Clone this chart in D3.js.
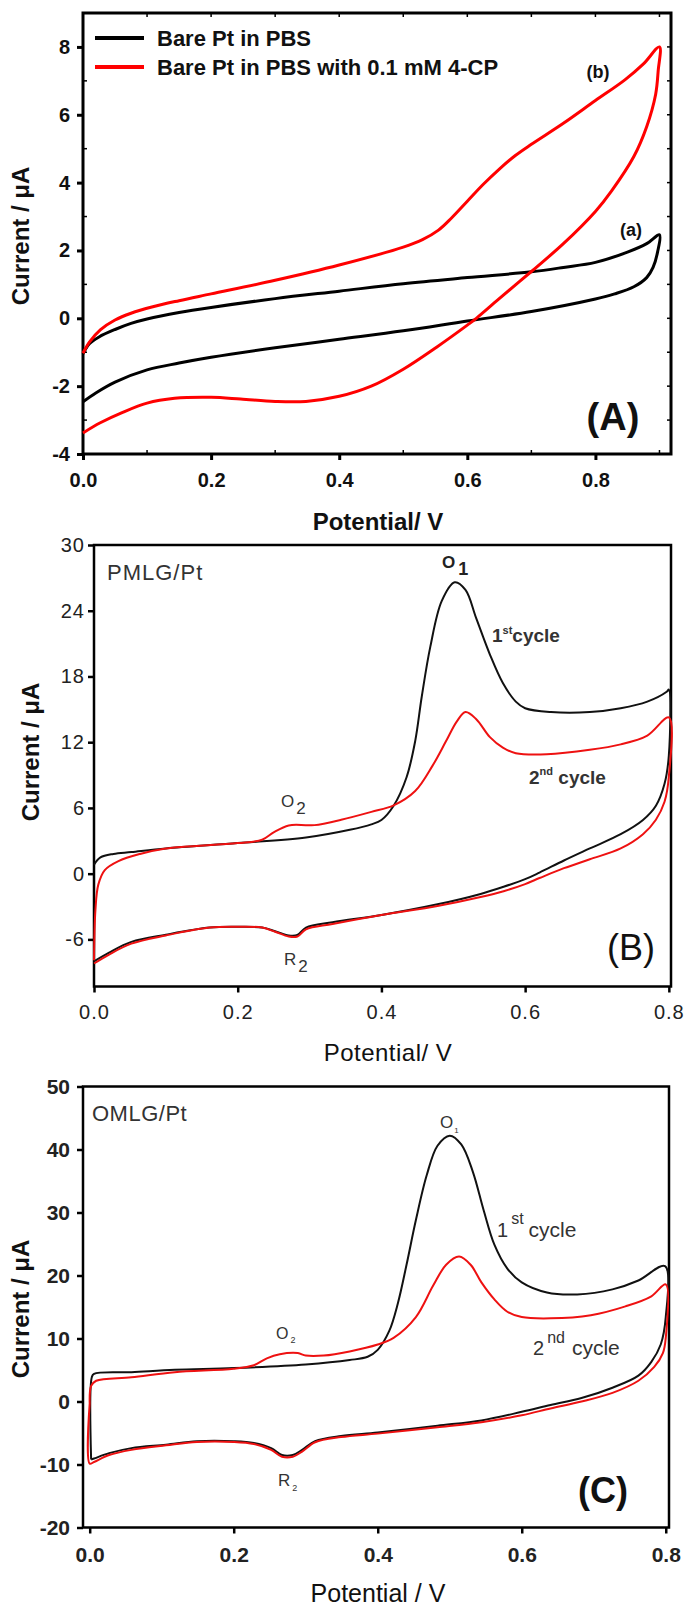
<!DOCTYPE html>
<html>
<head>
<meta charset="utf-8">
<script src="https://cdn.jsdelivr.net/npm/d3@7"></script>
<style>
  body { margin: 0; background: #fff; }
  svg { display: block; font-family: "Liberation Sans", Arial, sans-serif; }
</style>
</head>
<body>
<svg id="chart"></svg>
<script>
// ---- data: [potential V, current uA] along each scan ----
const bareFwd = [[0,-1.05],[0.01,-0.75],[0.025,-0.55],[0.05,-0.33],[0.075,-0.15],[0.1,-0.02],[0.15,0.17],[0.2,0.32],[0.3,0.58],[0.4,0.8],[0.5,1.02],[0.6,1.2],[0.7,1.37],[0.75,1.5],[0.8,1.65],[0.85,1.95],[0.88,2.2],[0.9,2.46]];
const bareRev = [[0.897,1.95],[0.89,1.5],[0.88,1.2],[0.86,0.93],[0.83,0.72],[0.8,0.57],[0.7,0.2],[0.6,-0.08],[0.5,-0.37],[0.4,-0.62],[0.3,-0.87],[0.2,-1.15],[0.15,-1.32],[0.1,-1.52],[0.05,-1.88],[0.02,-2.2],[0,-2.46]];
const cpFwd = [[0,-1.03],[0.01,-0.7],[0.027,-0.34],[0.05,-0.05],[0.075,0.15],[0.109,0.34],[0.15,0.52],[0.2,0.72],[0.3,1.12],[0.4,1.57],[0.5,2.1],[0.53,2.32],[0.555,2.6],[0.575,2.95],[0.6,3.45],[0.625,3.95],[0.65,4.4],[0.675,4.8],[0.7,5.13],[0.75,5.75],[0.8,6.42],[0.846,7.03],[0.875,7.5],[0.9,8.0]];
const cpRev = [[0.898,7.3],[0.894,6.6],[0.88,5.65],[0.86,4.77],[0.825,3.75],[0.8,3.15],[0.75,2.2],[0.7,1.38],[0.648,0.55],[0.614,0.0],[0.6,-0.2],[0.552,-0.85],[0.5,-1.5],[0.45,-2.0],[0.4,-2.3],[0.348,-2.45],[0.3,-2.45],[0.246,-2.38],[0.2,-2.33],[0.143,-2.36],[0.1,-2.5],[0.061,-2.78],[0.027,-3.08],[0,-3.38]];

const pmlg1Fwd = [[0,0.82],[0.009,1.48],[0.027,1.8],[0.052,1.97],[0.1,2.3],[0.2,2.79],[0.295,3.3],[0.356,4.0],[0.386,4.5],[0.4,4.9],[0.417,6.2],[0.435,8.8],[0.447,12.1],[0.456,16.1],[0.468,20.7],[0.484,24.9],[0.502,26.6],[0.517,25.9],[0.532,23.3],[0.551,20],[0.569,17.4],[0.587,15.7],[0.6,15.1],[0.636,14.75],[0.69,14.75],[0.733,15.1],[0.77,15.7],[0.797,16.6],[0.8,16.8]];
const pmlg1Rev = [[0.8,10.8],[0.794,8.2],[0.782,6.2],[0.764,4.9],[0.733,3.6],[0.69,2.3],[0.654,1.2],[0.62,0.1],[0.6,-0.5],[0.57,-1.2],[0.538,-1.85],[0.478,-2.8],[0.4,-3.77],[0.332,-4.43],[0.295,-4.92],[0.283,-5.6],[0.271,-5.64],[0.252,-5.25],[0.234,-4.92],[0.2,-4.85],[0.161,-4.92],[0.1,-5.57],[0.052,-6.23],[0.021,-7.2],[0,-8.0]];
const pmlg2Fwd = [[0,-7.9],[0.002,-3.3],[0.006,-1.0],[0.015,0.33],[0.034,1.15],[0.064,1.8],[0.1,2.3],[0.2,2.79],[0.234,3.1],[0.25,3.77],[0.271,4.4],[0.295,4.43],[0.307,4.43],[0.344,4.92],[0.386,5.64],[0.417,6.23],[0.447,7.54],[0.471,9.84],[0.49,12.1],[0.505,13.9],[0.517,14.75],[0.532,14.1],[0.551,12.46],[0.569,11.5],[0.587,11],[0.63,10.9],[0.69,11.3],[0.733,11.8],[0.77,12.6],[0.8,14.26]];
const pmlg2Rev = [[0.8,8.85],[0.794,6.56],[0.782,4.92],[0.764,3.6],[0.733,2.3],[0.69,1.31],[0.654,0.5],[0.62,-0.4],[0.6,-0.95],[0.57,-1.6],[0.538,-2.13],[0.478,-2.95],[0.4,-3.77],[0.332,-4.59],[0.295,-5.08],[0.283,-5.74],[0.271,-5.74],[0.252,-5.3],[0.234,-4.92],[0.2,-4.85],[0.161,-4.92],[0.1,-5.64],[0.052,-6.39],[0.021,-7.38],[0,-8.2]];

const omlg1Fwd = [[0.002,-9.2],[0.003,3.9],[0.006,4.4],[0.058,4.66],[0.118,5.04],[0.2,5.3],[0.3,5.87],[0.361,6.58],[0.386,7.1],[0.4,8.2],[0.416,11.2],[0.428,15.6],[0.44,21.7],[0.453,28.8],[0.468,35.9],[0.483,40.6],[0.5,42.2],[0.516,40.8],[0.532,36.5],[0.547,30.4],[0.562,24.9],[0.58,21.1],[0.6,18.9],[0.635,17.3],[0.677,17.0],[0.726,17.8],[0.762,19.2],[0.799,21.5]];
const omlg1Rev = [[0.8,13.4],[0.793,9.05],[0.78,6.3],[0.762,4.1],[0.726,2.19],[0.683,0.55],[0.64,-0.55],[0.6,-1.64],[0.544,-3.0],[0.483,-3.84],[0.4,-4.93],[0.349,-5.48],[0.313,-6.3],[0.295,-7.68],[0.282,-8.5],[0.267,-8.5],[0.252,-7.4],[0.228,-6.58],[0.2,-6.3],[0.149,-6.3],[0.106,-6.85],[0.058,-7.4],[0.027,-8.2],[0.006,-9.05],[0.002,-9.2]];
const omlg2Fwd = [[0,-0.27],[0.002,2.47],[0.009,3.29],[0.058,3.84],[0.118,4.66],[0.2,5.2],[0.228,5.76],[0.246,6.85],[0.264,7.5],[0.289,7.68],[0.3,7.29],[0.325,7.29],[0.361,7.95],[0.4,9.05],[0.422,10.1],[0.453,13.4],[0.477,18.4],[0.495,21.7],[0.513,23.0],[0.529,21.7],[0.544,18.9],[0.562,16.2],[0.58,14.25],[0.6,13.4],[0.64,13.2],[0.696,13.7],[0.744,15.1],[0.78,16.7],[0.8,18.6]];
const omlg2Rev = [[0.8,10.1],[0.796,7.68],[0.784,5.48],[0.762,3.29],[0.726,1.37],[0.683,0],[0.64,-1.1],[0.6,-2.19],[0.544,-3.29],[0.483,-4.1],[0.4,-5.1],[0.349,-5.65],[0.313,-6.47],[0.295,-7.95],[0.282,-8.77],[0.267,-8.77],[0.252,-7.68],[0.228,-6.74],[0.2,-6.41],[0.149,-6.41],[0.106,-6.96],[0.058,-7.68],[0.027,-8.5],[0.006,-9.6],[0,-9.87],[0,-0.27]];

// tick labels
const potentialTicks = [0, 0.2, 0.4, 0.6, 0.8];
const potentialMinorA = [0.1, 0.3, 0.5, 0.7, 0.9];
const currentTicksA = [-4, -2, 0, 2, 4, 6, 8];
const currentMinorA = [-3, -1, 1, 3, 5, 7];
const currentTicksB = [-6, 0, 6, 12, 18, 24, 30];
const currentTicksC = [-20, -10, 0, 10, 20, 30, 40, 50];

const legendLabels = ["Bare Pt in PBS", "Bare Pt in PBS with 0.1 mM 4-CP"];

const W = 686, H = 1606;
const svg = d3.select("#chart").attr("width", W).attr("height", H);
svg.append("rect").attr("width", W).attr("height", H).attr("fill", "#fff");

let cv = (xs, ys) => d3.line()
    .x(d => xs(d[0]))
    .y(d => ys(d[1]))
    .curve(d3.curveCatmullRom.alpha(0.5));

// one panel: frame, axes, titles; returns scales + group
let drawPanel = (p) => {
    let x = d3.scaleLinear().domain(p.xDomain).range([p.left, p.right]);
    let y = d3.scaleLinear().domain(p.yDomain).range([p.bottom, p.top]);
    let g = svg.append("g");

    let xAxis = d3.axisBottom(x).tickValues(potentialTicks).tickSize(6)
        .tickPadding(p.xPad).tickFormat(d3.format(".1f"));
    let yAxis = d3.axisLeft(y).tickValues(p.yTicks).tickSize(6)
        .tickPadding(p.yPad).tickFormat(d => String(d));

    let gx = g.append("g").attr("transform", `translate(0,${p.bottom})`).call(xAxis);
    let gy = g.append("g").attr("transform", `translate(${p.left},0)`).call(yAxis);
    [gx, gy].forEach(a => {
        a.select(".domain").remove();
        a.selectAll("line").attr("stroke", "#000").attr("stroke-width", p.frameW);
        a.selectAll("text")
         .attr("font-size", p.tickSize)
         .attr("font-weight", p.tickWeight)
         .attr("fill", p.tickColor)
         .attr("letter-spacing", p.tickSpacing || 0)
         .attr("font-family", "Liberation Sans, Arial, sans-serif");
    });

    g.append("rect")
     .attr("x", p.left).attr("y", p.top)
     .attr("width", p.right - p.left).attr("height", p.bottom - p.top)
     .attr("fill", "none").attr("stroke", "#000").attr("stroke-width", p.frameW);

    g.append("text")
     .attr("transform", `translate(${p.yTitleX},${p.yTitleY}) rotate(-90)`)
     .attr("text-anchor", "middle").attr("dominant-baseline", "middle")
     .attr("font-size", 24).attr("font-weight", "bold").attr("fill", "#111")
     .text("Current / μA");

    g.append("text")
     .attr("x", p.xTitleX).attr("y", p.xTitleY)
     .attr("text-anchor", "middle")
     .attr("font-size", p.xTitleSize || 24).attr("font-weight", p.xTitleWeight).attr("fill", "#111")
     .attr("letter-spacing", p.xTitleSpacing || 0)
     .text(p.xTitle);

    return {x, y, g};
};

// label helper with sub/superscript
let label = (g, x, y, parts, opts) => {
    let t = g.append("text").attr("x", x).attr("y", y)
        .attr("font-size", opts.size).attr("fill", opts.color || "#222")
        .attr("font-weight", opts.weight || "normal");
    parts.forEach(pt => {
        t.append("tspan")
         .attr("font-size", pt.size || opts.size)
         .attr("dy", pt.dy || 0)
         .attr("dx", pt.dx || 0)
         .text(pt.t);
    });
    return t;
};

// ---------------- panel A ----------------
let A = drawPanel({
    left: 83, right: 671, top: 13, bottom: 454,
    xDomain: [0, 0.918], yDomain: [-4, 9], yTicks: currentTicksA,
    xPad: 13, yPad: 7, frameW: 3,
    tickSize: 20, tickWeight: "bold", tickColor: "#111",
    yTitleX: 23, yTitleY: 236, xTitleX: 378, xTitleY: 530,
    xTitle: "Potential/ V", xTitleWeight: "bold"
});

// small inward minor ticks on panel A
let minorA = A.g.append("g").attr("stroke", "#000").attr("stroke-width", 1.5);
minorA.selectAll(".mxb").data(potentialMinorA).enter().append("line")
   .attr("x1", d => A.x(d)).attr("x2", d => A.x(d))
   .attr("y1", 454).attr("y2", 450);
minorA.selectAll(".mxt").data(potentialTicks.concat(potentialMinorA)).enter().append("line")
   .attr("x1", d => A.x(d)).attr("x2", d => A.x(d))
   .attr("y1", 13).attr("y2", 17);
minorA.selectAll(".myl").data(currentMinorA).enter().append("line")
   .attr("x1", 83).attr("x2", 87)
   .attr("y1", d => A.y(d)).attr("y2", d => A.y(d));
minorA.selectAll(".myr").data(currentTicksA.concat(currentMinorA)).enter().append("line")
   .attr("x1", 671).attr("x2", 667)
   .attr("y1", d => A.y(d)).attr("y2", d => A.y(d));

let lineA = cv(A.x, A.y);
A.g.append("path").attr("d", lineA(bareFwd.concat(bareRev)))
   .attr("fill", "none").attr("stroke", "#000").attr("stroke-width", 3);
A.g.append("path").attr("d", lineA(cpFwd.concat(cpRev)))
   .attr("fill", "none").attr("stroke", "#ff0000").attr("stroke-width", 3);

legendLabels.forEach((s, i) => {
    let ly = 38 + i * 29;
    A.g.append("line").attr("x1", 95).attr("x2", 144).attr("y1", ly).attr("y2", ly)
       .attr("stroke", i ? "#ff0000" : "#000").attr("stroke-width", 4);
    A.g.append("text").attr("x", 157).attr("y", ly + 8)
       .attr("font-size", 22).attr("font-weight", "bold").attr("fill", "#111").text(s);
});
A.g.append("text").attr("x", 598).attr("y", 78).attr("text-anchor", "middle")
   .attr("font-size", 18).attr("font-weight", "bold").attr("fill", "#111").text("(b)");
A.g.append("text").attr("x", 631).attr("y", 236).attr("text-anchor", "middle")
   .attr("font-size", 18).attr("font-weight", "bold").attr("fill", "#111").text("(a)");
A.g.append("text").attr("x", 613).attr("y", 430).attr("text-anchor", "middle")
   .attr("font-size", 38).attr("font-weight", "bold").attr("fill", "#111").text("(A)");

// ---------------- panel B ----------------
let B = drawPanel({
    left: 94, right: 671, top: 545, bottom: 986.5,
    xDomain: [0, 0.803], yDomain: [-10.3, 30], yTicks: currentTicksB,
    xPad: 12, yPad: 3, frameW: 2.5,
    tickSize: 20, tickWeight: "normal", tickColor: "#222", tickSpacing: 1,
    yTitleX: 33, yTitleY: 752, xTitleX: 388, xTitleY: 1061,
    xTitle: "Potential/ V", xTitleWeight: "normal", xTitleSpacing: 0.5
});
let lineB = cv(B.x, B.y);
B.g.append("path").attr("d", lineB(pmlg1Fwd.concat(pmlg1Rev)))
   .attr("fill", "none").attr("stroke", "#111").attr("stroke-width", 2);
B.g.append("path").attr("d", lineB(pmlg2Fwd.concat(pmlg2Rev)))
   .attr("fill", "none").attr("stroke", "#ee1111").attr("stroke-width", 2);

label(B.g, 107, 580, [{t: "PMLG/Pt"}], {size: 22, color: "#333"}).attr("letter-spacing", 1);
label(B.g, 442, 568, [{t: "O"}, {t: "1", dy: 7, dx: 3, size: 18}], {size: 17, weight: "bold", color: "#222"});
label(B.g, 492, 642, [{t: "1"}, {t: "st", dy: -8, size: 11}, {t: "cycle", dy: 8}], {size: 19, weight: "bold", color: "#333"});
label(B.g, 529, 784, [{t: "2"}, {t: "nd", dy: -9, size: 11}, {t: " cycle", dy: 9}], {size: 19, weight: "bold", color: "#333"});
label(B.g, 281, 807, [{t: "O"}, {t: "2", dy: 7, dx: 2}], {size: 17, color: "#333"});
label(B.g, 284, 965, [{t: "R"}, {t: "2", dy: 7, dx: 2}], {size: 17, color: "#333"});
B.g.append("text").attr("x", 631).attr("y", 960).attr("text-anchor", "middle")
   .attr("font-size", 36).attr("fill", "#111").text("(B)");

// ---------------- panel C ----------------
let C = drawPanel({
    left: 83, right: 669, top: 1086.5, bottom: 1527.5,
    xDomain: [-0.0093, 0.8045], yDomain: [-20, 50], yTicks: currentTicksC,
    xPad: 14, yPad: 7, frameW: 2.5,
    tickSize: 21, tickWeight: "bold", tickColor: "#222",
    yTitleX: 23, yTitleY: 1309, xTitleX: 378, xTitleY: 1602,
    xTitle: "Potential / V", xTitleWeight: "normal", xTitleSize: 25
});
let lineC = cv(C.x, C.y);
C.g.append("path").attr("d", lineC(omlg1Fwd.concat(omlg1Rev)))
   .attr("fill", "none").attr("stroke", "#111").attr("stroke-width", 2);
C.g.append("path").attr("d", lineC(omlg2Fwd.concat(omlg2Rev)))
   .attr("fill", "none").attr("stroke", "#ee1111").attr("stroke-width", 2);

label(C.g, 92, 1121, [{t: "OMLG/Pt"}], {size: 22, color: "#333"}).attr("letter-spacing", 0.5);
label(C.g, 440, 1128, [{t: "O"}, {t: "1", dy: 5, dx: 1, size: 8}], {size: 17, color: "#333"});
label(C.g, 497, 1237, [{t: "1"}, {t: "st", dy: -13, dx: 3, size: 16}, {t: "cycle", dy: 13, dx: 5, size: 21}], {size: 20, color: "#333"});
label(C.g, 533, 1355, [{t: "2"}, {t: "nd", dy: -12, dx: 3, size: 16}, {t: "cycle", dy: 12, dx: 7, size: 21}], {size: 20, color: "#333"});
label(C.g, 276, 1339, [{t: "O"}, {t: "2", dy: 4, dx: 2, size: 9}], {size: 16, color: "#333"});
label(C.g, 278, 1486, [{t: "R"}, {t: "2", dy: 5, dx: 2, size: 9}], {size: 17, color: "#333"});
C.g.append("text").attr("x", 603).attr("y", 1503).attr("text-anchor", "middle")
   .attr("font-size", 36).attr("font-weight", "bold").attr("fill", "#111").text("(C)");
</script>
</body>
</html>
